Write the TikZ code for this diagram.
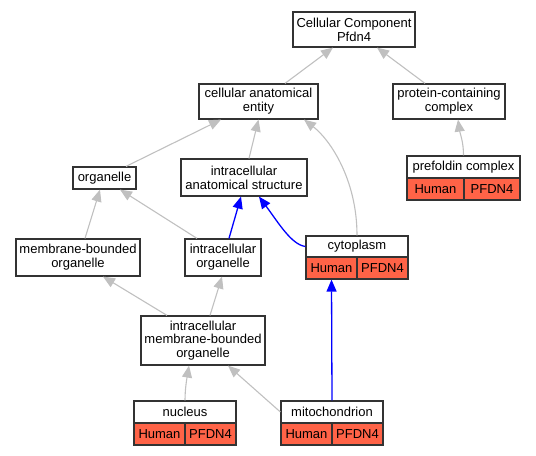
\documentclass[tikz,border=0pt]{standalone}
\usepackage{fontspec}
\setmainfont{Liberation Sans}
\usetikzlibrary{arrows.meta}
\definecolor{tomatofill}{RGB}{255,99,71}
\definecolor{edgegray}{RGB}{192,192,192}
\newcommand{\lblfont}{\fontsize{13bp}{13.8bp}\selectfont}
\begin{document}
\begin{tikzpicture}[x=1bp,y=-1bp,
  box/.style={draw=black!80, line width=1.2bp, fill=white, inner sep=0pt, align=center, font=\lblfont},
  cell/.style={box, fill=tomatofill},
  gedge/.style={draw=edgegray, line width=1.1bp, -{Triangle[length=12bp,width=10bp]}},
  bedge/.style={draw=blue, line width=1.3bp, -{Triangle[length=12bp,width=10bp]}}]
\useasboundingbox (0,0) rectangle (536,456);
% nodes
\node[box, minimum width=122bp, minimum height=35bp] (cc) at (354,29.5) {Cellular Component\\Pfdn4};
\node[box, minimum width=119bp, minimum height=35bp] (cae) at (258.5,101.5) {cellular anatomical\\entity};
\node[box, minimum width=112bp, minimum height=35bp] (pcc) at (449,101.5) {protein-containing\\complex};
\node[box, minimum width=113bp, minimum height=22bp] (pfc) at (463.5,167) {prefoldin complex};
\node[cell, minimum width=57bp, minimum height=22bp] (pfca) at (435.5,189) {Human};
\node[cell, minimum width=56bp, minimum height=22bp] (pfcb) at (492,189) {PFDN4};
\node[box, minimum width=63bp, minimum height=22bp] (org) at (104.5,178) {organelle};
\node[box, minimum width=126bp, minimum height=37bp] (ias) at (244,177.5) {intracellular\\anatomical structure};
\node[box, minimum width=124bp, minimum height=37bp] (mbo) at (78,257.5) {membrane-bounded\\organelle};
\node[box, minimum width=76bp, minimum height=37bp] (io) at (223,257.5) {intracellular\\organelle};
\node[box, minimum width=102bp, minimum height=21bp] (cyt) at (357,246.5) {cytoplasm};
\node[cell, minimum width=51bp, minimum height=22bp] (cyta) at (331.5,268) {Human};
\node[cell, minimum width=51bp, minimum height=22bp] (cytb) at (382.5,268) {PFDN4};
\node[box, minimum width=124bp, minimum height=49bp] (imbo) at (203,340.5) {intracellular\\membrane-bounded\\organelle};
\node[box, minimum width=102bp, minimum height=22bp] (nuc) at (185,412) {nucleus};
\node[cell, minimum width=51bp, minimum height=22bp] (nuca) at (159.5,434) {Human};
\node[cell, minimum width=51bp, minimum height=22bp] (nucb) at (210.5,434) {PFDN4};
\node[box, minimum width=102bp, minimum height=22bp] (mit) at (332,412) {mitochondrion};
\node[cell, minimum width=51bp, minimum height=22bp] (mita) at (306.5,434) {Human};
\node[cell, minimum width=51bp, minimum height=22bp] (mitb) at (357.5,434) {PFDN4};
% edges
\draw[gedge] ([xshift=26.5bp]cae.north) -- ([xshift=-21bp]cc.south);
\draw[gedge] ([xshift=-24bp]pcc.north) -- ([xshift=23bp]cc.south);
\draw[gedge] (pfc.north) .. controls +(0,-14) and +(2,14) .. ([xshift=9bp]pcc.south);
\draw[gedge] ([xshift=21.5bp]org.north) -- ([xshift=-37.5bp]cae.south);
\draw[gedge] ([xshift=5bp]ias.north) -- (cae.south);
\draw[gedge] (cyt.north) .. controls +(0,-56) and +(26,20) .. ([xshift=45.5bp]cae.south);
\draw[gedge] ([xshift=7bp]mbo.north) -- ([xshift=-4.5bp]org.south);
\draw[gedge] ([xshift=-26bp]io.north) -- ([xshift=15.5bp]org.south);
\draw[bedge] ([xshift=6bp]io.north) -- ([xshift=-3bp]ias.south);
\draw[bedge] (cyt.west) .. controls +(-14,-2) and +(20,27) .. ([xshift=15bp]ias.south);
\draw[gedge] ([xshift=-36bp]imbo.north) -- ([xshift=25bp]mbo.south);
\draw[gedge] ([xshift=7bp]imbo.north) -- ([xshift=-1bp]io.south);
\draw[gedge] (nuc.north) .. controls +(0,-12) and +(-2,12) .. ([xshift=-14bp]imbo.south);
\draw[gedge] (mit.west) -- ([xshift=25bp]imbo.south);
\draw[bedge] (mit.north) -- (cyta.south);
\end{tikzpicture}
\end{document}
